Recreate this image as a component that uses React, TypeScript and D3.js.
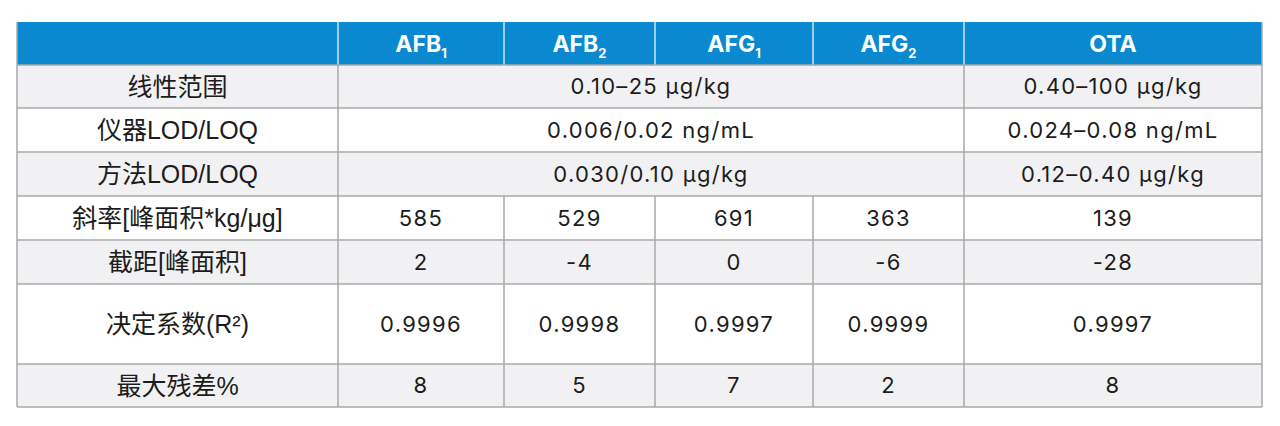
import React, { useEffect, useRef } from "react";
import * as d3 from "d3";

// column headers (base + subscript)
const analyteNames = ["AFB", "AFB", "AFG", "AFG", "OTA"];
const analyteSubs = ["1", "2", "1", "2", ""];

const rowLabels = [
  "线性范围",
  "仪器LOD/LOQ",
  "方法LOD/LOQ",
  "斜率[峰面积*kg/μg]",
  "截距[峰面积]",
  "决定系数(R²)",
  "最大残差%",
];

// merged rows: [aflatoxins (4 cols), OTA]
const linearRange = ["0.10–25 µg/kg", "0.40–100 µg/kg"];
const instrumentLod = ["0.006/0.02 ng/mL", "0.024–0.08 ng/mL"];
const methodLod = ["0.030/0.10 µg/kg", "0.12–0.40 µg/kg"];

// per-analyte rows
const slope = ["585", "529", "691", "363", "139"];
const intercept = ["2", "-4", "0", "-6", "-28"];
const r2 = ["0.9996", "0.9998", "0.9997", "0.9999", "0.9997"];
const maxResidual = ["8", "5", "7", "2", "8"];

const rowValues = [linearRange, instrumentLod, methodLod, slope, intercept, r2, maxResidual];

// layout
const colEdges = [17, 338, 504, 655, 813, 964, 1262];
const rowEdges = [22, 65, 108, 152, 196, 240, 284, 364, 407];
const FONT = "Inter, 'Noto Sans CJK SC', 'Noto Sans', sans-serif";
const LABEL_FONT = "'Liberation Sans', 'Noto Sans CJK SC', sans-serif";
const BLUE = "#0a88d0";
const GREY_BG = "#f1f1f3";
const LINE = "#a8a8a8";
const TEXT = "#1c1c1c";

export default function App() {
  const ref = useRef<SVGSVGElement | null>(null);

  useEffect(() => {
    const svg = d3.select(ref.current);
    svg.selectAll("*").remove();

    const left = colEdges[0];
    const right = colEdges[colEdges.length - 1];
    const yTop = (i: number) => rowEdges[i];
    const yMid = (i: number) => (rowEdges[i] + rowEdges[i + 1]) / 2;

    // header background
    svg
      .append("rect")
      .attr("x", left)
      .attr("y", rowEdges[0])
      .attr("width", right - left)
      .attr("height", rowEdges[1] - rowEdges[0])
      .attr("fill", BLUE);

    // body backgrounds (alternating)
    svg
      .selectAll("rect.row")
      .data(rowLabels)
      .enter()
      .append("rect")
      .attr("class", "row")
      .attr("x", left)
      .attr("y", (_, i) => yTop(i + 1))
      .attr("width", right - left)
      .attr("height", (_, i) => rowEdges[i + 2] - rowEdges[i + 1])
      .attr("fill", (_, i) => (i % 2 === 0 ? GREY_BG : "#fff"));

    // header separators (white)
    svg
      .selectAll("line.hsep")
      .data(colEdges.slice(1, -1))
      .enter()
      .append("line")
      .attr("x1", (d) => d)
      .attr("x2", (d) => d)
      .attr("y1", rowEdges[0])
      .attr("y2", rowEdges[1])
      .attr("stroke", "#fff")
      .attr("stroke-width", 1.2);

    // horizontal grid lines
    svg
      .selectAll("line.hline")
      .data(rowEdges.slice(1))
      .enter()
      .append("line")
      .attr("x1", left)
      .attr("x2", right)
      .attr("y1", (d) => d)
      .attr("y2", (d) => d)
      .attr("stroke", LINE)
      .attr("stroke-width", 1.5);

    // vertical grid lines in body (skip merged spans)
    rowValues.forEach((vals, r) => {
      const edges = vals.length === 2 ? [colEdges[0], colEdges[1], colEdges[5], colEdges[6]] : colEdges;
      edges.forEach((x) => {
        svg
          .append("line")
          .attr("x1", x)
          .attr("x2", x)
          .attr("y1", rowEdges[r + 1])
          .attr("y2", rowEdges[r + 2])
          .attr("stroke", LINE)
          .attr("stroke-width", 1.5);
      });
    });
    // outer border of header sides
    [left, right].forEach((x) =>
      svg
        .append("line")
        .attr("x1", x)
        .attr("x2", x)
        .attr("y1", rowEdges[0])
        .attr("y2", rowEdges[1])
        .attr("stroke", LINE)
        .attr("stroke-width", 1.5)
    );

    // header text
    const header = svg
      .selectAll("text.head")
      .data(analyteNames)
      .enter()
      .append("text")
      .attr("class", "head")
      .attr("x", (_, i) => (colEdges[i + 1] + colEdges[i + 2]) / 2)
      .attr("y", yMid(0))
      .attr("dy", "0.36em")
      .attr("text-anchor", "middle")
      .attr("font-family", FONT)
      .attr("font-weight", 700)
      .attr("font-size", 23)
      .attr("fill", "#fff");
    header.append("tspan").text((d) => d);
    header
      .append("tspan")
      .attr("font-size", 13)
      .attr("dy", 6)
      .text((_, i) => analyteSubs[i]);

    // row labels
    svg
      .selectAll("text.label")
      .data(rowLabels)
      .enter()
      .append("text")
      .attr("class", "label")
      .attr("x", (colEdges[0] + colEdges[1]) / 2)
      .attr("y", (_, i) => yMid(i + 1))
      .attr("dy", "0.36em")
      .attr("text-anchor", "middle")
      .attr("font-family", LABEL_FONT)
      .attr("font-size", 25)
      .attr("fill", TEXT)
      .text((d) => d);

    // values
    rowValues.forEach((vals, r) => {
      const centers =
        vals.length === 2
          ? [(colEdges[1] + colEdges[5]) / 2, (colEdges[5] + colEdges[6]) / 2]
          : vals.map((_, i) => (colEdges[i + 1] + colEdges[i + 2]) / 2);
      svg
        .append("g")
        .selectAll("text")
        .data(vals)
        .enter()
        .append("text")
        .attr("x", (_, i) => centers[i])
        .attr("y", yMid(r + 1))
        .attr("dy", "0.36em")
        .attr("text-anchor", "middle")
        .attr("font-family", FONT)
        .attr("font-size", 22)
        .attr("letter-spacing", 1.3)
        .attr("fill", TEXT)
        .text((d) => d);
    });
  }, []);

  return (
    <svg
      ref={ref}
      width={1280}
      height={426}
      style={{ position: "absolute", left: 0, top: 0, background: "#fff" }}
    />
  );
}
